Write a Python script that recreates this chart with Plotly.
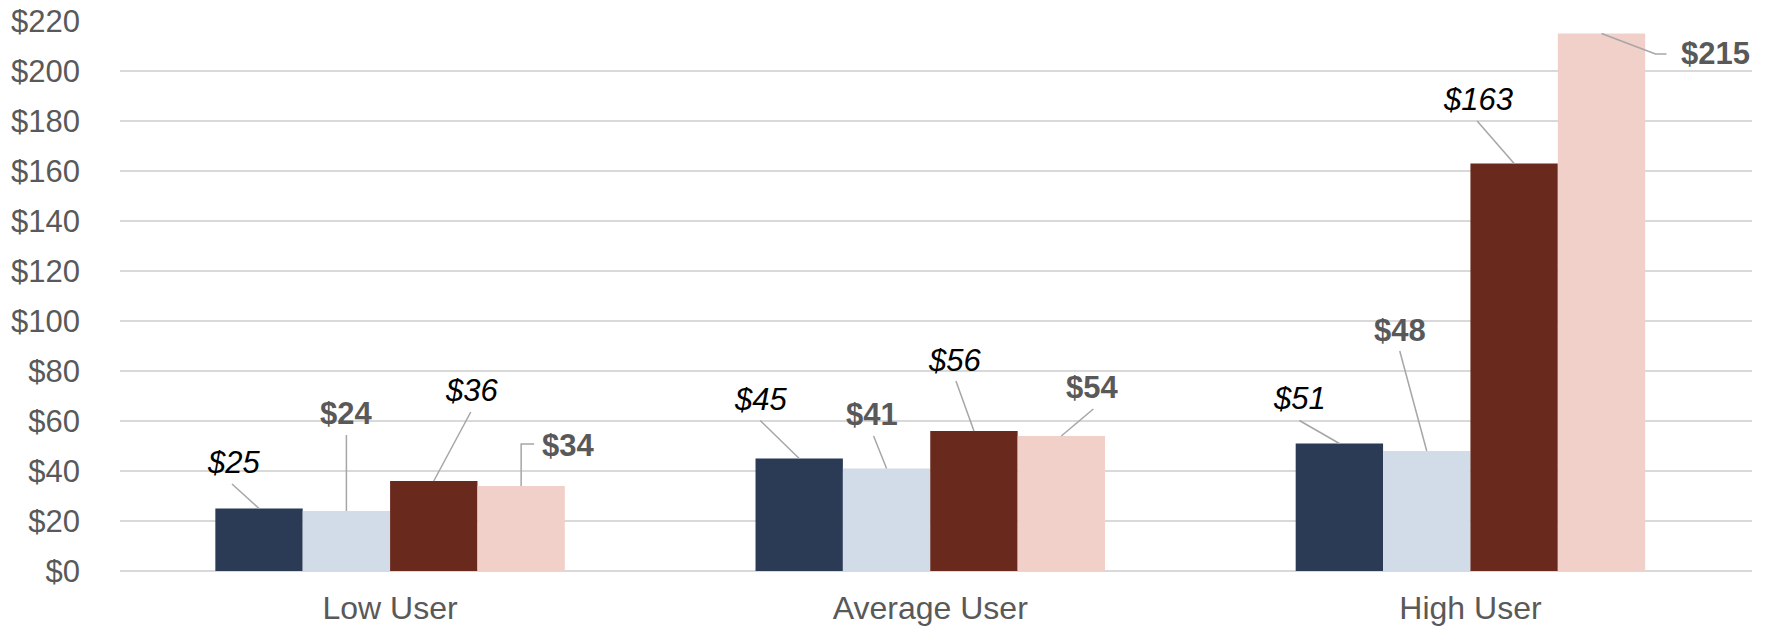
import plotly.graph_objects as go

# ---- data ----
categories = ["Low User", "Average User", "High User"]
series_names = ["Series A", "Series B", "Series C", "Series D"]
values_a = [25, 45, 51]
values_b = [24, 41, 48]
values_c = [36, 56, 163]
values_d = [34, 54, 215]
y_ticks = [0, 20, 40, 60, 80, 100, 120, 140, 160, 180, 200, 220]
y_tick_labels = [f"${t}" for t in y_ticks]

# ---- styles ----
colors = ["#2C3B55", "#D2DCE9", "#69291D", "#F1D0C9"]
label_styles = ["italic", "bold", "italic", "bold"]
label_colors = ["#000000", "#595959", "#000000", "#595959"]
FONT = "Liberation Sans, Arial, sans-serif"
BARGAP = 0.353

# label offsets (pixels, from bar-top centre; y up) per series, per category
label_dx = [[-26, -39, -40], [0, -15, -27], [38, -19, -36], [47, 31, 114]]
label_dy = [[46, 59, 45], [98, 54, 121], [91, 71, 64], [41, 49, -20]]
# leader line paths (pixels, relative to bar-top centre)
leader_paths = [
    [[(-27, 24.5)], [(-39, 38)], [(-40, 23)]],
    [[(0, 76)], [(-13, 32.5)], [(-27, 100)]],
    [[(37, 69)], [(-18, 50)], [(-37, 42.5)]],
    [[(13, 42), (0, 42)], [(32, 27)], [(65, -20.5), (54, -20.5)]],
]

all_values = [values_a, values_b, values_c, values_d]

fig = go.Figure()
for name, vals, col in zip(series_names, all_values, colors):
    fig.add_trace(go.Bar(x=categories, y=vals, name=name, marker_color=col,
                         marker_line_width=0))

n = len(all_values)
bw = (1 - BARGAP) / n
annotations = []
shapes = []
for s, vals in enumerate(all_values):
    off = -(1 - BARGAP) / 2 + (s + 0.5) * bw
    for c, v in enumerate(vals):
        xc = c + off
        txt = f"${v}"
        txt = f"<i>{txt}</i>" if label_styles[s] == "italic" else f"<b>{txt}</b>"
        annotations.append(dict(
            x=xc, y=v, xref="x", yref="y", text=txt, showarrow=False,
            xshift=label_dx[s][c], yshift=label_dy[s][c],
            xanchor="center", yanchor="middle",
            font=dict(family=FONT, size=31, color=label_colors[s])))
        pts = leader_paths[s][c]
        path = "M " + " L ".join(f"{px},{py}" for px, py in pts) + " L 0,0"
        shapes.append(dict(
            type="path", xref="x", yref="y", xsizemode="pixel", ysizemode="pixel",
            xanchor=xc, yanchor=v, path=path,
            line=dict(color="#A6A6A6", width=1.5)))

fig.update_layout(
    width=1772, height=626, autosize=False,
    margin=dict(l=120, r=20, t=21, b=55, autoexpand=False),
    barmode="group", bargap=BARGAP, bargroupgap=0,
    plot_bgcolor="white", paper_bgcolor="white",
    showlegend=False,
    annotations=annotations, shapes=shapes,
    font=dict(family=FONT, color="#595959"),
)
fig.update_yaxes(range=[0, 220], tickvals=y_ticks, ticktext=y_tick_labels,
                 automargin=False,
                 showgrid=True, gridcolor="#D9D9D9", gridwidth=1.5,
                 zeroline=True, zerolinecolor="#D9D9D9", zerolinewidth=1.5,
                 showline=False, ticks="", ticklabelstandoff=39,
                 tickfont=dict(family=FONT, size=31, color="#595959"))
fig.update_xaxes(showgrid=False, showline=False, ticks="", ticklabelstandoff=15,
                 automargin=False,
                 tickfont=dict(family=FONT, size=32, color="#595959"))

fig.write_html("out.html", config={"displayModeBar": False, "responsive": False},
               post_script="document.body.style.margin='0';document.body.style.overflow='hidden';")
